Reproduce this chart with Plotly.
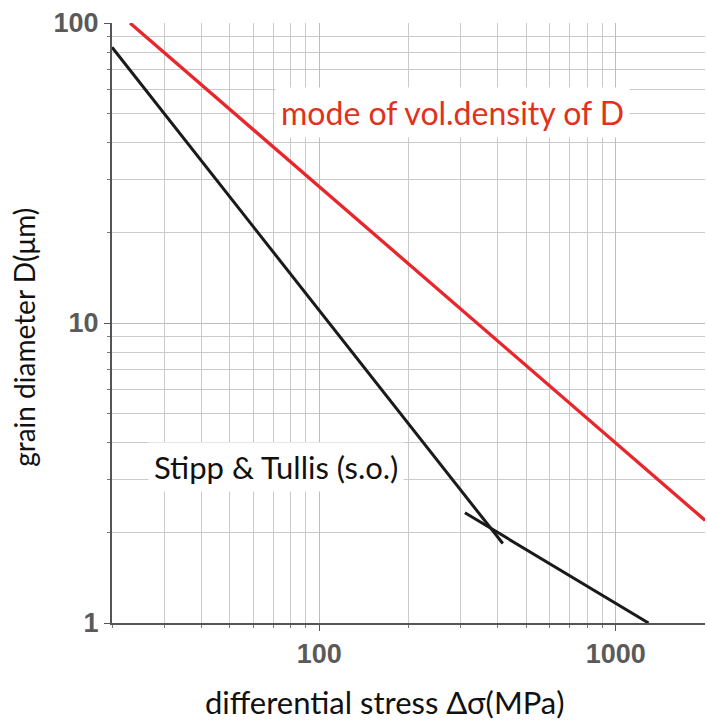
import plotly.graph_objects as go

# Data
stipp_seg1_x = [20, 416]
stipp_seg1_y = [83, 1.84]
stipp_seg2_x = [310, 1290]
stipp_seg2_y = [2.33, 1.0]
mode_x = [23, 2000]
mode_y = [100, 2.2]

x_major = [100, 1000]
y_major = [1, 10, 100]
x_minor = [m * 10 ** k for k in (1, 2) for m in range(2, 10)]
y_minor = [m * 10 ** k for k in (0, 1) for m in range(2, 10)]

fig = go.Figure()
fig.add_trace(go.Scatter(x=mode_x, y=mode_y, mode="lines",
                         line=dict(color="#e8262c", width=3.3), showlegend=False))
fig.add_trace(go.Scatter(x=stipp_seg1_x, y=stipp_seg1_y, mode="lines",
                         line=dict(color="#1a1a1a", width=3), showlegend=False))
fig.add_trace(go.Scatter(x=stipp_seg2_x, y=stipp_seg2_y, mode="lines",
                         line=dict(color="#1a1a1a", width=3), showlegend=False))

tickfont = dict(family="Arial", size=27, color="#5a5a5a", weight="bold")
NB = "&nbsp;"

fig.update_xaxes(type="log", range=[1.30103, 3.30103],
                 tickmode="array", tickvals=x_major, ticktext=[str(v) for v in x_major],
                 tickfont=tickfont, ticks="outside", ticklen=6, tickcolor="#555",
                 showline=True, linecolor="#555", linewidth=2,
                 showgrid=True, gridcolor="#bdbdbd", gridwidth=1,
                 minor=dict(tickmode="array", tickvals=x_minor, ticks="outside", ticklen=3,
                            tickcolor="#777", showgrid=True, gridcolor="#cacaca", gridwidth=1),
                 zeroline=False,
                 title=dict(text="differential stress Δσ(MPa)" + NB * 6,
                            font=dict(family="Lato", size=31, color="#111111"), standoff=24))
fig.update_yaxes(type="log", range=[0, 2],
                 tickmode="array", tickvals=y_major, ticktext=[str(v) for v in y_major],
                 tickfont=tickfont, ticks="outside", ticklen=6, tickcolor="#555",
                 showline=True, linecolor="#555", linewidth=2,
                 showgrid=True, gridcolor="#bdbdbd", gridwidth=1,
                 minor=dict(tickmode="array", tickvals=y_minor, ticks="outside", ticklen=3,
                            tickcolor="#777", showgrid=True, gridcolor="#cacaca", gridwidth=1),
                 zeroline=False,
                 title=dict(text="grain diameter D(μm)" + NB * 4,
                            font=dict(family="Lato", size=28, color="#111111"), standoff=10))

fig.add_annotation(x=2.448, y=1.703, xref="x", yref="y", text="mode of vol.density of D",
                   showarrow=False, font=dict(family="Lato", size=32, color="#e2311a"),
                   bgcolor="white", borderpad=5)
fig.add_annotation(x=1.853, y=0.52, xref="x", yref="y", text="Stipp &amp; Tullis (s.o.)",
                   showarrow=False, font=dict(family="Lato", size=31, color="#111111"),
                   bgcolor="white", borderpad=5)

fig.update_layout(width=707, height=725, margin=dict(l=112, r=2, t=23, b=102),
                  paper_bgcolor="white", plot_bgcolor="white")

fig.write_html("out.html")
